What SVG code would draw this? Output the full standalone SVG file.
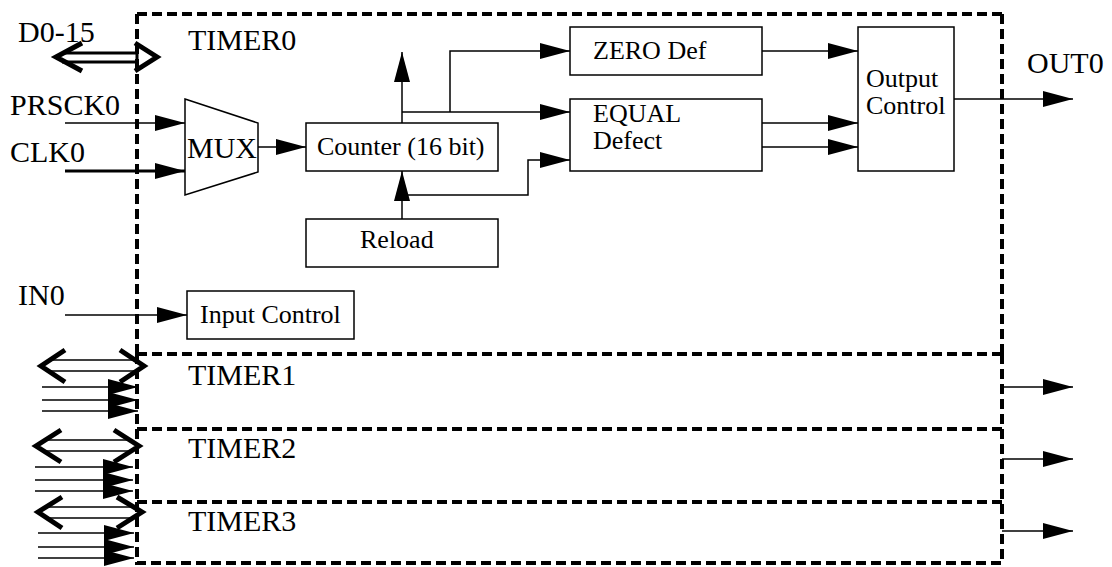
<svg xmlns="http://www.w3.org/2000/svg" width="1112" height="567" viewBox="0 0 1112 567">
<style>
.t{font-family:"Liberation Serif","Times New Roman",serif;fill:#000}
.big{font-size:30px}
.sm{font-size:26px}
.box{fill:#fff;stroke:#000;stroke-width:1.5}
.dash{fill:none;stroke:#000;stroke-width:4;stroke-dasharray:10 5}
.ln{fill:none;stroke:#000;stroke-width:1.5}
.thick{fill:none;stroke:#000;stroke-width:3}
.wing{fill:none;stroke:#000;stroke-width:5;stroke-linejoin:miter}
</style>
<defs>
<marker id="ah" markerUnits="userSpaceOnUse" markerWidth="30" markerHeight="18" refX="30" refY="8" orient="auto">
<path d="M0,0 L30,8 L0,16 Z" fill="#000"/>
</marker>
</defs>
<rect width="1112" height="567" fill="#fff"/>

<g id="timer0">
<path class="dash" d="M137,14 L1002,14"/>
<path class="dash" d="M137,14 L137,354"/>
<path class="dash" d="M1002,14 L1002,354"/>
<text class="t big" x="188" y="50">TIMER0</text>
</g>
<g id="timer1">
<path class="dash" d="M137,354 L1002,354"/>
<path class="dash" d="M137,354 L137,429"/>
<path class="dash" d="M1002,354 L1002,429"/>
<text class="t big" x="188" y="385">TIMER1</text>
</g>
<g id="timer2">
<path class="dash" d="M137,429 L1002,429"/>
<path class="dash" d="M137,429 L137,502"/>
<path class="dash" d="M1002,429 L1002,502"/>
<text class="t big" x="188" y="458">TIMER2</text>
</g>
<g id="timer3">
<path class="dash" d="M137,502 L1002,502"/>
<path class="dash" d="M137,502 L137,563 L1002,563 L1002,502"/>
<text class="t big" x="188" y="531">TIMER3</text>
</g>

<g id="labels">
<text class="t big" x="18" y="42">D0-15</text>
<text class="t big" x="10" y="115">PRSCK0</text>
<text class="t big" x="10" y="162">CLK0</text>
<text class="t big" x="18" y="305">IN0</text>
<text class="t big" x="1027" y="73">OUT0</text>
</g>

<g id="mux">
<path class="box" d="M185,99 L258,123 L258,172 L185,195 Z"/>
<text class="t big" x="187" y="158">MUX</text>
</g>
<g id="counter">
<rect class="box" x="306" y="123" width="192" height="48"/>
<text class="t sm" x="317" y="155">Counter (16 bit)</text>
</g>
<g id="reload">
<rect class="box" x="306" y="219" width="192" height="48"/>
<text class="t sm" x="360" y="248">Reload</text>
</g>
<g id="zero">
<rect class="box" x="570" y="27" width="192" height="48"/>
<text class="t sm" x="593" y="59">ZERO Def</text>
</g>
<g id="equal">
<rect class="box" x="570" y="99" width="192" height="72"/>
<text class="t sm" x="593" y="122">EQUAL</text>
<text class="t sm" x="593" y="149">Defect</text>
</g>
<g id="output">
<rect class="box" x="858" y="27" width="96" height="144"/>
<text class="t sm" x="866" y="87">Output</text>
<text class="t sm" x="866" y="114">Control</text>
</g>
<g id="input">
<rect class="box" x="187" y="291" width="167" height="48"/>
<text class="t sm" x="200" y="323">Input Control</text>
</g>

<g id="connectors">
<path class="thick" d="M62,53 L137,53 L137,62 L62,62"/>
<path class="wing" d="M82,43 L56,57 L82,71 M135,43 L157,57 L135,71"/>
<path class="ln" d="M65,123 L185,123" marker-end="url(#ah)"/>
<path class="thick" d="M65,171 L185,171" marker-end="url(#ah)"/>
<path class="ln" d="M65,315 L187,315" marker-end="url(#ah)"/>
<path class="ln" d="M258,147 L306,147" marker-end="url(#ah)"/>
<path class="ln" d="M402,123 L402,52" marker-end="url(#ah)"/>
<path class="ln" d="M402,112 L570,112" marker-end="url(#ah)"/>
<path class="ln" d="M450,112 L450,51 L570,51" marker-end="url(#ah)"/>
<path class="ln" d="M402,219 L402,171" marker-end="url(#ah)"/>
<path class="ln" d="M402,195 L528,195 L528,160 L570,160" marker-end="url(#ah)"/>
<path class="ln" d="M762,51 L858,51" marker-end="url(#ah)"/>
<path class="ln" d="M762,123 L858,123" marker-end="url(#ah)"/>
<path class="ln" d="M762,147 L858,147" marker-end="url(#ah)"/>
<path class="ln" d="M954,99 L1073,99" marker-end="url(#ah)"/>
<path class="ln" d="M1002,387 L1073,387" marker-end="url(#ah)"/>
<path class="ln" d="M1002,459 L1073,459" marker-end="url(#ah)"/>
<path class="ln" d="M1002,531 L1073,531" marker-end="url(#ah)"/>
<path class="ln" d="M48,360 L137,360 M48,371 L137,371"/>
<path class="wing" d="M65,350 L41,366 L65,382 M120,350 L144,366 L120,382"/>
<path class="ln" d="M42,387 L138,387" marker-end="url(#ah)"/>
<path class="ln" d="M42,400 L138,400" marker-end="url(#ah)"/>
<path class="ln" d="M42,411 L138,411" marker-end="url(#ah)"/>
<path class="ln" d="M43,440 L132,440 M43,451 L132,451"/>
<path class="wing" d="M61,430 L36,446 L61,462 M114,430 L139,446 L114,462"/>
<path class="ln" d="M35,467 L133,467" marker-end="url(#ah)"/>
<path class="ln" d="M35,480 L133,480" marker-end="url(#ah)"/>
<path class="ln" d="M35,491 L133,491" marker-end="url(#ah)"/>
<path class="ln" d="M45,507 L135,507 M45,518 L135,518"/>
<path class="wing" d="M62,497 L38,512 L62,528 M117,497 L142,512 L117,528"/>
<path class="ln" d="M38,533 L134,533" marker-end="url(#ah)"/>
<path class="ln" d="M38,547 L134,547" marker-end="url(#ah)"/>
<path class="ln" d="M38,558 L134,558" marker-end="url(#ah)"/>
</g>
</svg>
